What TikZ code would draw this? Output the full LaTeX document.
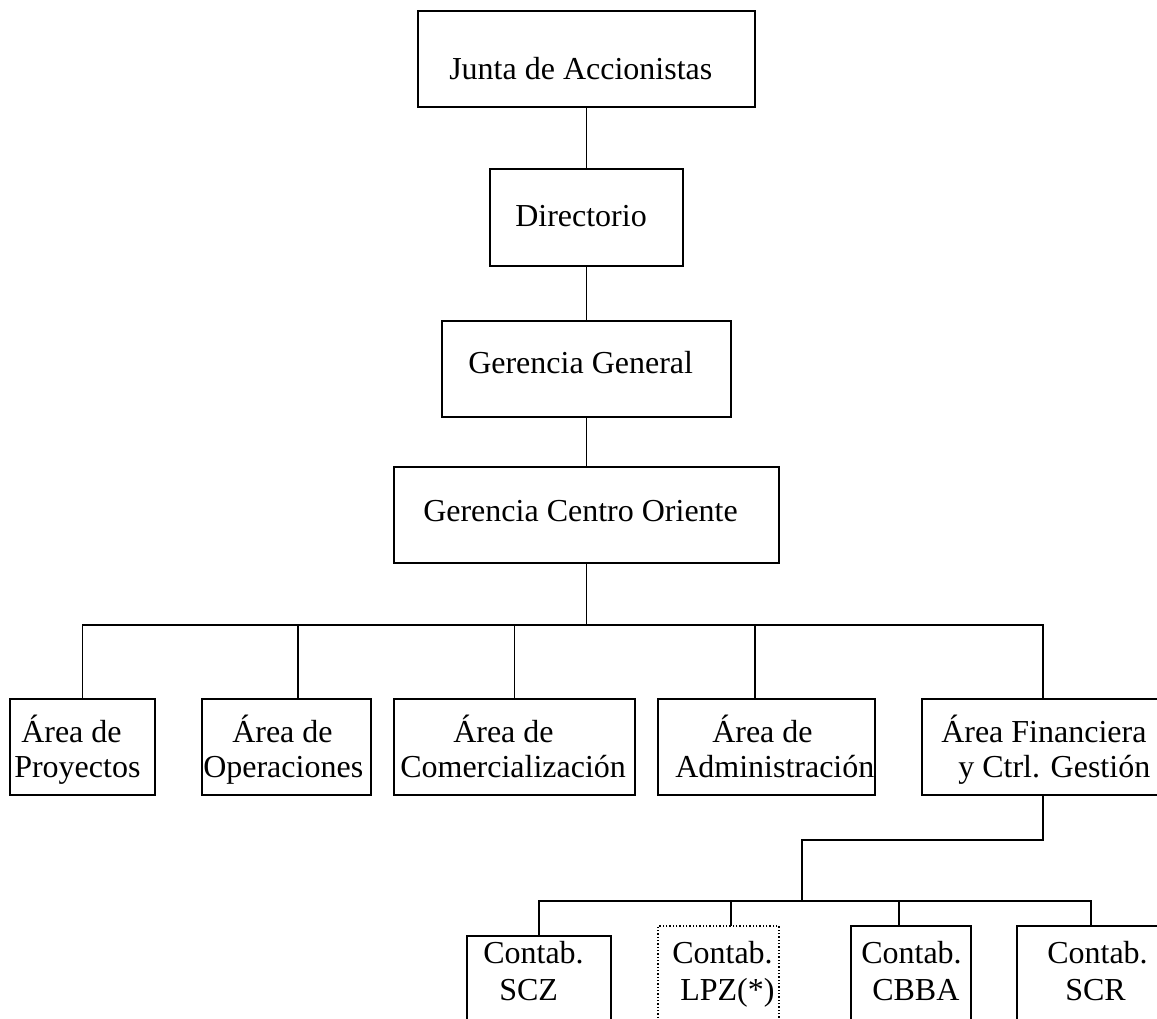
\documentclass[tikz,border=0pt]{standalone}
\usepackage{fontspec}
\setmainfont{Liberation Serif}
\usetikzlibrary{fit}
\begin{document}
\begin{tikzpicture}[x=0.75pt, y=-0.75pt,
  box/.style={draw, line width=1.2pt, inner sep=0pt, rectangle},
  dotbox/.style={draw, line width=0.9pt, dash pattern=on 0.9pt off 1.6pt, inner sep=0pt, rectangle},
  link/.style={line width=1.2pt},
  txt/.style={anchor=base west, inner sep=0pt, font=\fontsize{24}{26}\selectfont}]
\useasboundingbox (0,0) rectangle (1157,1019);
\clip (0,0) rectangle (1157,1019);

% --- upper chain of command
\node[box, fit={(418,11) (755,107)}] (junta) {};
\node[txt] (t-junta) at (449,80) {Junta de Accionistas};
\node[box, fit={(490,169) (683,266)}] (dir) {};
\node[txt] (t-dir) at (515,227) {Directorio};
\node[box, fit={(442,321) (731,417)}] (gg) {};
\node[txt] (t-gg) at (468,374) {Gerencia General};
\node[box, fit={(394,467) (779,563)}] (gco) {};
\node[txt] (t-gco) at (423,522) {Gerencia Centro Oriente};

\draw[link] (junta.south) -- (dir.north);
\draw[link] (dir.south) -- (gg.north);
\draw[link] (gg.south) -- (gco.north);

% --- areas
\node[box, fit={(10,699) (155,795)}] (proy) {};
\node[txt] (t-proy1) at (21,742) {Área de};
\node[txt] (t-proy2) at (14,777) {Proyectos};
\node[box, fit={(202,699) (371,795)}] (ope) {};
\node[txt] (t-ope1) at (232,742) {Área de};
\node[txt] (t-ope2) at (203,777) {Operaciones};
\node[box, fit={(394,699) (635,795)}] (com) {};
\node[txt] (t-com1) at (453,742) {Área de};
\node[txt] (t-com2) at (400,777) {Comercialización};
\node[box, fit={(658,699) (875,795)}] (adm) {};
\node[txt] (t-adm1) at (712,742) {Área de};
\node[txt] (t-adm2) at (675,777) {Administración};
\node[box, fit={(922,699) (1164,795)}] (fin) {};
\node[txt] (t-fin1) at (941,742) {Área Financiera};
\node[txt] (t-fin2) at (958,777) {y Ctrl. Gestión};

\coordinate (bus) at (0,625);
\coordinate (ope-in) at (298,699);
\coordinate (adm-in) at (755,699);
\draw[link] (gco.south) -- (gco.south |- bus);
\draw[link] (proy.north) -- (proy.north |- bus) -- (fin.north |- bus) -- (fin.north);
\draw[link] (ope-in |- bus) -- (ope-in);
\draw[link] (com.north |- bus) -- (com.north);
\draw[link] (adm-in |- bus) -- (adm-in);

% --- accounting offices
\node[box, fit={(467,936) (611,1040)}] (scz) {};
\node[txt] (t-scz1) at (483,963) {Contab.};
\node[txt] (t-scz2) at (499,1000) {SCZ};
\node[dotbox, fit={(658,926) (779,1040)}] (lpz) {};
\node[txt] (t-lpz1) at (672,963) {Contab.};
\node[txt] (t-lpz2) at (680,1000) {LPZ(*)};
\node[box, fit={(851,926) (971,1040)}] (cbba) {};
\node[txt] (t-cbba1) at (861,963) {Contab.};
\node[txt] (t-cbba2) at (872,1000) {CBBA};
\node[box, fit={(1017,926) (1165,1040)}] (scr) {};
\node[txt] (t-scr1) at (1047,963) {Contab.};
\node[txt] (t-scr2) at (1065,1000) {SCR};

\coordinate (fork) at (802,840);
\coordinate (bus2) at (0,901);
\coordinate (lpz-in) at (731,926);
\coordinate (cbba-in) at (899,926);
\draw[link] (fin.south) |- (fork) -- (fork |- bus2);
\draw[link] (scz.north) -- (scz.north |- bus2) -- (scr.north |- bus2) -- (scr.north);
\draw[link] (lpz-in |- bus2) -- (lpz-in);
\draw[link] (cbba-in |- bus2) -- (cbba-in);
\end{tikzpicture}
\end{document}
